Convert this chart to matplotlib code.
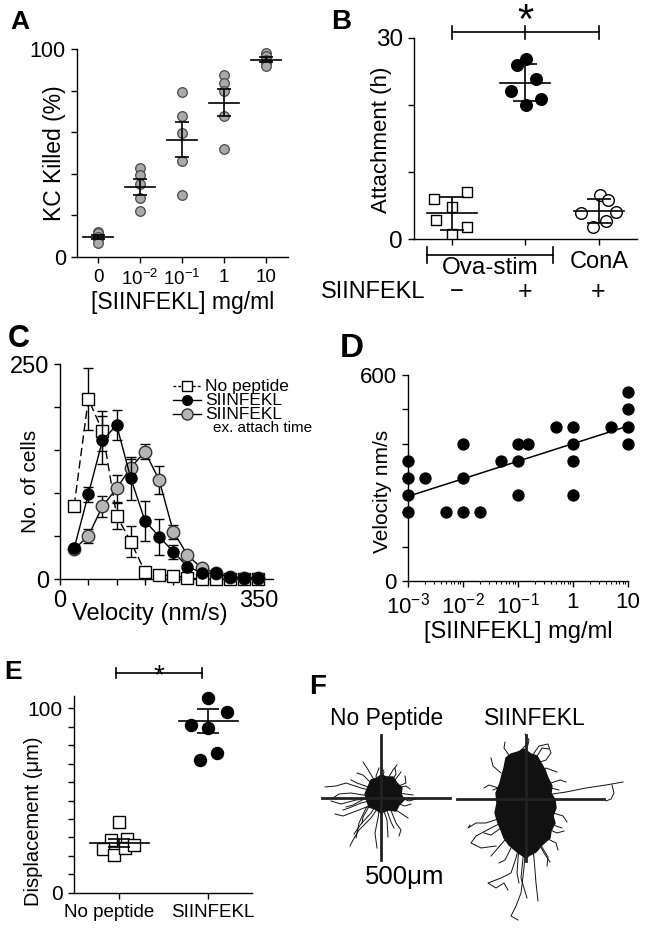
import numpy as np
import matplotlib
matplotlib.use('Agg')
import matplotlib.pyplot as plt
import matplotlib.transforms as mtransforms
from matplotlib.lines import Line2D
from matplotlib.patches import Polygon
from matplotlib.ticker import FixedLocator, LogLocator, NullFormatter

plt.rcParams['font.family'] = ['Liberation Sans', 'DejaVu Sans']
plt.rcParams['mathtext.fontset'] = 'custom'
plt.rcParams['mathtext.rm'] = 'Liberation Sans'
plt.rcParams['mathtext.it'] = 'Liberation Sans:italic'
plt.rcParams['mathtext.bf'] = 'Liberation Sans:bold'
plt.rcParams['axes.linewidth'] = 1.0

# ---------------- data ----------------
# Panel A: % KC killed per SIINFEKL concentration
A_labels = ['0', '$10^{-2}$', '$10^{-1}$', '1', '10']
A_vals = [
    [12.2, 11.4, 9.8, 8.5, 6.6],
    [42.7, 39.3, 35.3, 28.6, 22.3],
    [79.1, 67.6, 59.6, 46.2, 29.9],
    [87.6, 83.6, 79.6, 67.9, 51.8],
    [98.0, 96.8, 94.9, 93.3, 91.7],
]

# Panel B: attachment time (h)
B_ova_neg = [5.95, 4.86, 6.99, 2.88, 1.88, 0.74]
B_ova_pos = [26.9, 25.9, 23.9, 22.1, 20.9, 20.0]
B_cona = [6.6, 5.85, 3.87, 4.1, 2.78, 1.88]
B_jit_neg = [-0.24, 0.0, 0.21, -0.22, 0.21, 0.0]
B_jit_pos = [0.01, -0.11, 0.14, -0.2, 0.21, 0.01]
B_jit_cona = [0.01, 0.12, -0.24, 0.24, 0.1, -0.08]

# Panel C: velocity histograms
C_vel = [25, 50, 75, 100, 125, 150, 175, 200, 225, 250, 275, 300, 325, 350]
C_nopep = [85.6, 209.6, 172.4, 74, 43.7, 8.9, 5, 3.8, 1.9, 0, 0, 0, 0, 0]
C_nopep_err = [0, 36, 23, 15, 18, 0, 0, 0, 0, 0, 0, 0, 0, 0]
C_siin = [36, 98.8, 161.6, 179.4, 117.4, 68, 49.6, 32, 14.7, 7.7, 7, 2.3, 2, 2]
C_siin_err = [0, 9, 28, 17, 25, 23, 21, 8, 0, 0, 0, 0, 0, 0]
C_ex = [35, 50.3, 85, 105.8, 130, 148.4, 115.5, 55.4, 28.3, 12.8, 7.7, 3, 1, 1]
C_ex_err = [0, 8, 12, 16, 10, 8.5, 16, 8, 0, 0, 0, 0, 0, 0]

# Panel D: velocity vs concentration
D_conc = [1e-3, 1e-3, 1e-3, 1e-3, 2e-3, 5e-3, 1e-2, 1e-2, 1e-2, 2e-2, 5e-2,
          0.1, 0.1, 0.1, 0.15, 0.5, 1, 1, 1, 1, 5, 10, 10, 10, 10]
D_vel = [350, 300, 250, 200, 300, 200, 400, 300, 200, 200, 350,
         400, 350, 250, 400, 450, 450, 400, 350, 250, 450, 550, 500, 450, 400]
D_xtick_labels = ['$10^{-3}$', '$10^{-2}$', '$10^{-1}$', '1', '10']

# Panel E: displacement
E_labels = ['No peptide', 'SIINFEKL']
E_nopep = [38.5, 28.6, 28.9, 23.5, 20.4, 24.1, 25.9]
E_siin = [105.4, 98.2, 91.0, 89.2, 75.6, 72.0]
E_jit_nopep = [0.0, -0.1, 0.09, -0.18, -0.065, 0.057, 0.16]
E_jit_siin = [0.0, 0.21, -0.2, 0.0, 0.1, -0.1]
E_mean = [27.1, 93.1]
E_err = [2.3, 6.3]

# Panel F: cell tracks (um, relative to start)
F_nopep_core = [(-64, 16), (-52, 44), (-40, 72), (-16, 80), (0, 92), (24, 84),
                (48, 84), (64, 60), (84, 40), (80, 16), (92, -8), (72, -28),
                (60, -52), (28, -48), (0, -60), (-24, -44), (-48, -36), (-56, -12)]
F_nopep_tracks = [
    [(0, 20), (-80, 40), (-140, 60), (-180, 48), (-224, 44)],
    [(0, 0), (-80, -20), (-128, -40), (-152, -48)],
    [(0, -20), (-40, -80), (-88, -128), (-112, -168), (-124, -192)],
    [(0, 0), (-12, -80), (-24, -140), (-16, -200)],
    [(0, 20), (24, 72), (48, 112), (64, 132)],
    [(0, 20), (-32, 80), (-56, 120), (-72, 144)],
    [(20, 0), (72, 20), (128, 12)],
    [(20, -20), (72, -56), (108, -80)],
    [(0, -20), (24, -88), (28, -156)],
    [(-20, -20), (-88, -48), (-152, -72), (-184, -64)],
    [(-20, 0), (-100, -8), (-160, -24), (-200, -12)],
    [(20, 20), (56, 72), (80, 104)],
    [(0, 0), (-40, -60), (-80, -104), (-108, -144)],
    [(0, 0), (-60, -40), (-88, -100), (-100, -160)],
    [(0, 20), (-20, 88), (-8, 120)],
    [(20, 0), (60, -100), (80, -128), (72, -152)],
    [(0, 0), (-120, 20), (-168, 16), (-192, 0)],
    [(32, 32), (100, 60), (96, 88)],
    [(40, 60), (60, 96), (56, 120)],
    [(60, 40), (100, 48), (116, 36)],
    [(-40, 60), (-72, 92), (-96, 100)],
    [(-40, 40), (-96, 60), (-120, 72)],
    [(60, -20), (96, -32), (120, -24)],
    [(-40, -20), (-72, -76), (-76, -100)],
    [(20, -40), (40, -96), (52, -120)],
    [(-60, 0), (-112, -28), (-140, -36)],
    [(0, 60), (12, 104), (0, 128)],
    [(80, 0), (112, -12), (140, -4)],
]
F_siin_core = [(-80, 160), (-60, 176), (-32, 184), (-8, 196), (20, 176), (44, 168),
               (60, 140), (76, 112), (88, 80), (104, 48), (100, 20), (116, -8),
               (120, -40), (108, -72), (116, -100), (100, -132), (96, -160),
               (64, -188), (40, -216), (16, -228), (0, -240), (-24, -224),
               (-40, -212), (-68, -188), (-88, -160), (-100, -128), (-112, -100),
               (-124, -60), (-116, -20), (-120, 20), (-104, 60), (-96, 92), (-88, 120)]
F_siin_tracks = [
    [(0, 0), (80, 12), (160, 24), (240, 40), (320, 52), (388, 64)],
    [(344, 52), (352, 20), (340, -4), (320, -12)],
    [(20, 120), (32, 180), (52, 208), (88, 216), (100, 180), (80, 152), (56, 144)],
    [(-20, 80), (-60, 140), (-72, 168)],
    [(-40, -40), (-100, -80), (-160, -100), (-200, -100), (-232, -120), (-224, -108)],
    [(-60, -80), (-140, -120), (-200, -152), (-220, -180), (-180, -200), (-120, -192)],
    [(-20, -160), (-40, -240), (-60, -300), (-100, -320), (-152, -340),
     (-120, -360), (-88, -340), (-72, -368)],
    [(0, -160), (-8, -280), (-20, -380), (-40, -432), (-60, -472), (-32, -488)],
    [(20, -160), (32, -240), (40, -340), (48, -412)],
    [(40, -160), (72, -220), (96, -256)],
    [(80, -80), (120, -112), (144, -120)],
    [(60, 20), (100, 40), (132, 32)],
    [(40, 80), (80, 120), (124, 104)],
    [(-8, -200), (-20, -320), (4, -400)],
    [(-80, 20), (-112, 40), (-132, 32)],
    [(-60, -140), (-112, -200), (-140, -232)],
    [(0, 120), (-20, 192), (8, 220)],
    [(80, -160), (120, -180), (128, -208)],
    [(-60, 160), (-88, 200), (-84, 224)],
    [(40, 160), (64, 200), (92, 196)],
    [(100, 60), (136, 72), (160, 64)],
    [(110, -60), (148, -72), (164, -96)],
    [(-110, 40), (-148, 52), (-168, 40)],
    [(-100, -120), (-140, -148), (-168, -140)],
    [(60, -190), (88, -236), (84, -272)],
    [(-60, -200), (-84, -248), (-108, -260)],
    [(0, 180), (12, 232), (-4, 256)],
    [(-100, 100), (-132, 128), (-140, 160)],
    [(80, -120), (124, -140), (152, -132)],
    [(-30, -220), (-36, -300), (-28, -340)],
]

# ---------------- figure ----------------
W, H = 649, 930
fig = plt.figure(figsize=(W / 100, H / 100), dpi=100)


def fx(x):
    return x / W


def fy(y):
    return 1 - y / H


def px_axes(l, t, r, b):
    return fig.add_axes([l / W, 1 - b / H, (r - l) / W, (b - t) / H])


def ftext(x, y, s, **kw):
    kw.setdefault('ha', 'center')
    kw.setdefault('va', 'center')
    return fig.text(fx(x), fy(y), s, **kw)


def style(ax, fs):
    for s in ['top', 'right']:
        ax.spines[s].set_visible(False)
    ax.tick_params(direction='out', length=4.5, width=1.0, colors='black',
                   labelsize=fs)


def shift_label(lbl, dx_px):
    lbl.set_transform(lbl.get_transform() +
                      mtransforms.ScaledTranslation(dx_px / 100, 0, fig.dpi_scale_trans))


# ---------------- Panel A ----------------
axA = px_axes(77, 49, 288, 257)
style(axA, 15.5)
for i, vals in enumerate(A_vals):
    v = np.array(vals)
    axA.scatter(np.full(len(v), i), v, s=48, facecolor='#a9a9a9',
                edgecolor='#4a4a4a', linewidth=0.9, zorder=3, clip_on=False)
    m = v.mean()
    sem = v.std(ddof=1) / np.sqrt(len(v))
    axA.plot([i - 0.36, i + 0.36], [m, m], color='black', lw=1.2, zorder=4)
    axA.errorbar(i, m, yerr=sem, fmt='none', ecolor='black', elinewidth=1.2,
                 capsize=5, capthick=1.2, zorder=4)
axA.set_xlim(-0.5, 4.52)
axA.set_ylim(0, 100)
axA.set_yticks([0, 20, 40, 60, 80, 100])
axA.set_yticklabels(['0', '', '', '', '', '100'])
axA.set_xticks(range(5))
axA.set_xticklabels(A_labels, fontsize=13.5)
axA.tick_params(axis='x', pad=4)
ftext(54, 153, 'KC Killed (%)', rotation=90, fontsize=16.5)
ftext(183, 303, '[SIINFEKL] mg/ml', fontsize=16.5)

# ---------------- Panel B ----------------
axB = px_axes(414, 37.7, 637, 239.3)
style(axB, 17.5)
axB.scatter(np.array(B_jit_neg) + 0, B_ova_neg, marker='s', s=62,
            facecolor='white', edgecolor='black', linewidth=1.0, zorder=3)
axB.scatter(np.array(B_jit_pos) + 1, B_ova_pos, marker='o', s=70,
            facecolor='black', edgecolor='black', zorder=3)
axB.scatter(np.array(B_jit_cona) + 2, B_cona, marker='o', s=70,
            facecolor='white', edgecolor='black', linewidth=1.0, zorder=3)
for i, vals in enumerate([B_ova_neg, B_ova_pos, B_cona]):
    v = np.array(vals)
    m = v.mean()
    sd = v.std(ddof=1)
    axB.plot([i - 0.34, i + 0.34], [m, m], color='black', lw=1.2, zorder=4)
    axB.errorbar(i, m, yerr=sd, fmt='none', ecolor='black', elinewidth=1.2,
                 capsize=8.5, capthick=1.2, zorder=4)
axB.set_xlim(-0.517, 2.52)
axB.set_ylim(0, 30)
axB.set_yticks([0, 10, 20, 30])
axB.set_yticklabels(['0', '', '', '30'])
axB.set_xticks([0, 1, 2])
axB.set_xticklabels(['', '', ''])
# significance bracket
axB.plot([0, 2], [30.8, 30.8], color='black', lw=1.2, clip_on=False)
for xb in [0, 1, 2]:
    axB.plot([xb, xb], [29.8, 31.8], color='black', lw=1.2, clip_on=False)
ftext(525, 33, '*', fontsize=30, va='baseline')
# group bracket under axis
axB.plot([-0.34, 1.37], [-2.34, -2.34], color='black', lw=1.2, clip_on=False)
for xb in [-0.34, 1.37]:
    axB.plot([xb, xb], [-1.2, -3.5], color='black', lw=1.2, clip_on=False)
ftext(382, 140, 'Attachment (h)', rotation=90, fontsize=16)
ftext(490, 268, 'Ova-stim', fontsize=17.5)
ftext(599, 262, 'ConA', fontsize=17)
ftext(373, 292, 'SIINFEKL', fontsize=17)
ftext(457, 292, '\u2212', fontsize=17)
ftext(525, 292, '+', fontsize=18)
ftext(598, 292, '+', fontsize=18)

# ---------------- Panel C ----------------
axC = px_axes(60, 364.3, 273, 579.3)
style(axC, 17)
axC.errorbar(C_vel, C_nopep, yerr=C_nopep_err, color='black', lw=1.0,
             ls=(0, (6, 3)), marker='s', ms=8, mfc='white', mec='black',
             mew=1.0, capsize=3.5, elinewidth=1.0, zorder=3, clip_on=False)
axC.errorbar(C_vel, C_ex, yerr=C_ex_err, color='black', lw=1.0, marker='o',
             ms=9, mfc='#b5b5b5', mec='#333333', mew=1.0, capsize=3.5,
             elinewidth=1.0, zorder=4, clip_on=False)
axC.errorbar(C_vel, C_siin, yerr=C_siin_err, color='black', lw=1.0, marker='o',
             ms=8, mfc='black', mec='black', capsize=3.5, elinewidth=1.0,
             zorder=5, clip_on=False)
axC.set_xlim(0, 376)
axC.set_ylim(0, 250)
axC.set_yticks([0, 50, 100, 150, 200, 250])
axC.set_yticklabels(['0', '', '', '', '', '250'])
axC.set_xticks([0, 50, 100, 150, 200, 250, 300, 350])
axC.set_xticklabels(['0', '', '', '', '', '', '', '350'])
ftext(30, 481, 'No. of cells', rotation=90, fontsize=15)
ftext(150, 614, 'Velocity (nm/s)', fontsize=17)
# legend (manual)
leg_y = [386, 400, 414]
fig.add_artist(Line2D([fx(173), fx(201)], [fy(leg_y[0])] * 2, transform=fig.transFigure,
                      color='black', lw=1.0, ls=(0, (2, 1.5))))
fig.add_artist(Line2D([fx(187)], [fy(leg_y[0])], transform=fig.transFigure, marker='s',
                      ms=7, mfc='white', mec='black', mew=1.0))
fig.add_artist(Line2D([fx(173), fx(201)], [fy(leg_y[1])] * 2, transform=fig.transFigure,
                      color='black', lw=1.0))
fig.add_artist(Line2D([fx(187)], [fy(leg_y[1])], transform=fig.transFigure, marker='o',
                      ms=7, mfc='black', mec='black'))
fig.add_artist(Line2D([fx(173), fx(201)], [fy(leg_y[2])] * 2, transform=fig.transFigure,
                      color='black', lw=1.0))
fig.add_artist(Line2D([fx(187)], [fy(leg_y[2])], transform=fig.transFigure, marker='o',
                      ms=8, mfc='#b5b5b5', mec='#333333', mew=1.0))
for yy, lab in zip(leg_y, ['No peptide', 'SIINFEKL', 'SIINFEKL']):
    ftext(205, yy, lab, ha='left', fontsize=12.5)
ftext(213, 428, 'ex. attach time', ha='left', fontsize=11)

# ---------------- Panel D ----------------
axD = px_axes(408, 375, 628, 581)
style(axD, 16)
axD.scatter(D_conc, D_vel, s=62, color='black', zorder=3, clip_on=False)
lx = np.log10(np.array(D_conc))
slope, icpt = np.polyfit(lx, np.array(D_vel, dtype=float), 1)
xfit = np.array([min(D_conc), max(D_conc)])
axD.plot(xfit, slope * np.log10(xfit) + icpt, color='black', lw=1.1, zorder=2)
axD.set_xscale('log')
axD.set_xlim(1e-3, 10)
axD.set_ylim(0, 600)
axD.set_yticks([0, 100, 200, 300, 400, 500, 600])
axD.set_yticklabels(['0', '', '', '', '', '', '600'])
axD.xaxis.set_major_locator(FixedLocator([1e-3, 1e-2, 1e-1, 1, 10]))
axD.set_xticklabels(D_xtick_labels)
axD.xaxis.set_minor_locator(LogLocator(base=10, subs=np.arange(2, 10), numticks=20))
axD.xaxis.set_minor_formatter(NullFormatter())
axD.tick_params(which='minor', length=2.5, width=0.8)
ftext(383, 491, 'Velocity nm/s', rotation=90, fontsize=15)
ftext(518, 632, '[SIINFEKL] mg/ml', fontsize=17)

# ---------------- Panel E ----------------
axE = px_axes(74, 696, 252, 892.7)
style(axE, 15)
axE.scatter(np.array(E_jit_nopep) + 0, E_nopep, marker='s', s=80,
            facecolor='white', edgecolor='black', linewidth=1.0, zorder=3)
axE.scatter(np.array(E_jit_siin) + 1, E_siin, marker='o', s=75,
            facecolor='black', edgecolor='black', zorder=3, clip_on=False)
for i in range(2):
    axE.plot([i - 0.33, i + 0.33], [E_mean[i]] * 2, color='black', lw=1.2, zorder=4)
    axE.errorbar(i, E_mean[i], yerr=E_err[i], fmt='none', ecolor='black',
                 elinewidth=1.2, capsize=8, capthick=1.2, zorder=4)
axE.set_xlim(-0.511, 1.489)
axE.set_ylim(0, 106.7)
axE.set_yticks(np.arange(0, 101, 10))
axE.set_yticklabels(['0'] + [''] * 9 + ['100'])
axE.set_xticks([0, 1])
axE.set_xticklabels(E_labels, fontsize=13.5)
xl = axE.get_xticklabels()
shift_label(xl[0], -10)
shift_label(xl[1], 4)
axE.plot([-0.034, 0.93], [119.1, 119.1], color='black', lw=1.2, clip_on=False)
for xb in [-0.034, 0.93]:
    axE.plot([xb, xb], [116.4, 121.8], color='black', lw=1.2, clip_on=False)
ftext(159, 683, '*', fontsize=20, va='baseline')
ftext(34, 821, 'Displacement (\u03bcm)', rotation=90, fontsize=14.5)

# ---------------- Panel F ----------------
axF = px_axes(300, 720, 640, 930)
axF.set_xlim(-324, 1036)
axF.set_ylim(-528, 312)
axF.axis('off')
groups = [(0, F_nopep_core, F_nopep_tracks), (580, F_siin_core, F_siin_tracks)]
for ox, core, tracks in groups:
    c = np.array(core, dtype=float)
    axF.add_patch(Polygon(np.column_stack([c[:, 0] + ox, c[:, 1]]), closed=True,
                          facecolor='#111111', edgecolor='#111111', lw=1.0, zorder=2))
    for tr in tracks:
        t = np.array(tr, dtype=float)
        axF.plot(t[:, 0] + ox, t[:, 1], color='#111111', lw=0.7, zorder=2)
# crosshair scale bars (500 um)
axF.plot([-236, 276], [0, 0], color='#222222', lw=2.0, zorder=3)
axF.plot([0, 0], [-248, 252], color='#222222', lw=2.0, zorder=3)
axF.plot([580 - 276, 580 + 312], [-4, -4], color='#222222', lw=2.0, zorder=3)
axF.plot([580, 580], [-252, 252], color='#222222', lw=2.0, zorder=3)
ftext(387, 718, 'No Peptide', fontsize=16.5)
ftext(535, 718, 'SIINFEKL', fontsize=16.5)
ftext(405, 877, '500\u03bcm', fontsize=18.5)

# ---------------- panel letters ----------------
for x, y, s, fs in [(20, 22, 'A', 19), (341, 22, 'B', 20), (19, 339, 'C', 22),
                    (352, 348, 'D', 24), (13, 672, 'E', 19), (318, 687, 'F', 20)]:
    ftext(x, y, s, fontsize=fs, fontweight='bold')

fig.savefig('out.png', dpi=100)
